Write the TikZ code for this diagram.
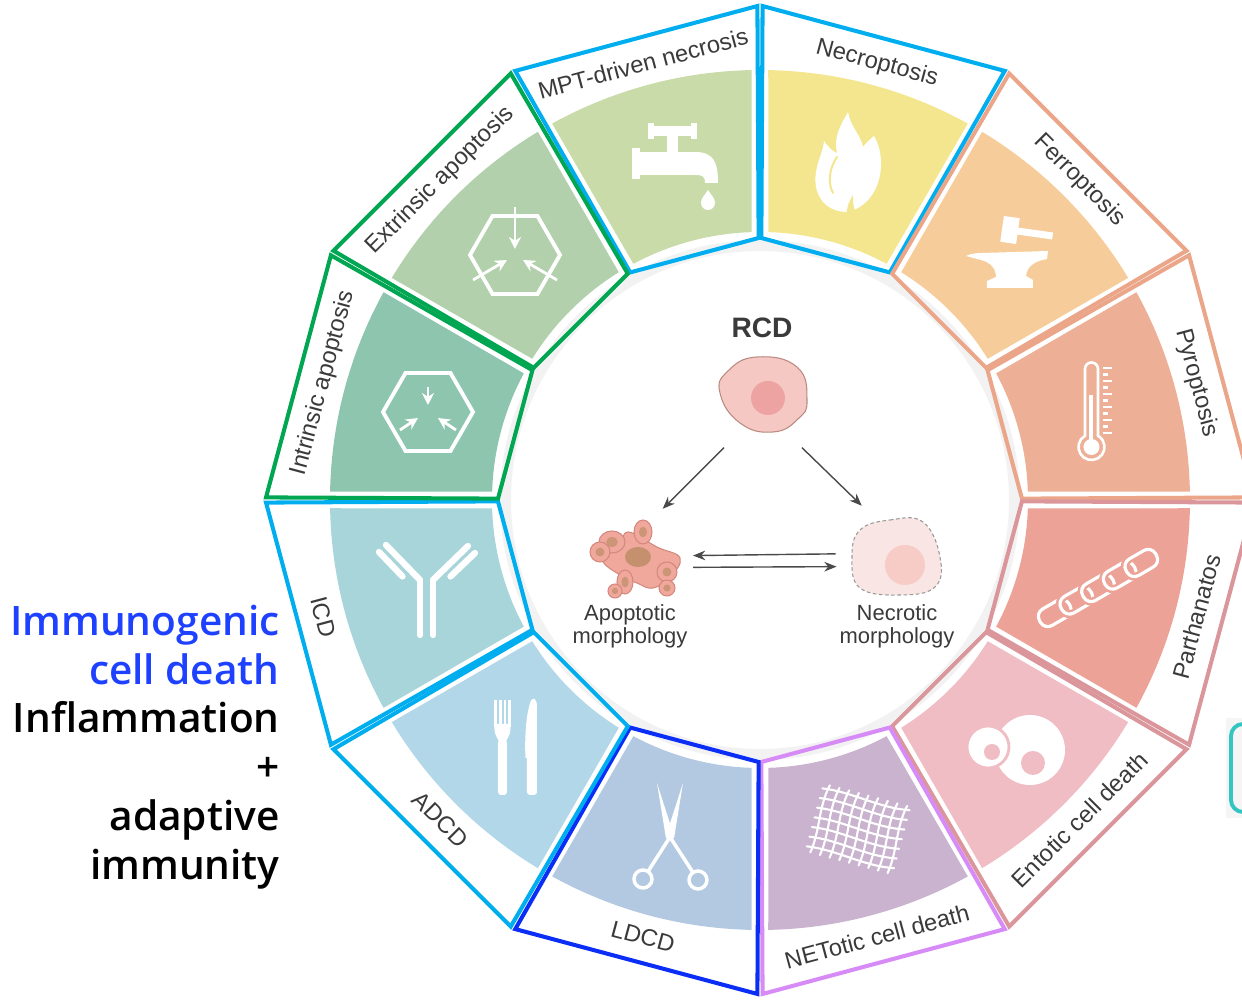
\documentclass[tikz,border=0pt]{standalone}
\usepackage{fontspec}
\setsansfont{Liberation Sans}
\newfontfamily\sidefont{Open Sans Semibold}
\usetikzlibrary{arrows.meta,positioning,calc}

% frame colours
\definecolor{cyanline}{HTML}{00AEEF}
\definecolor{greenline}{HTML}{00A651}
\definecolor{salmonline}{HTML}{EBA68A}
\definecolor{roseline}{HTML}{DA969B}
\definecolor{violetline}{HTML}{D78BF7}
\definecolor{blueline}{HTML}{0A2EF5}
% sector colours
\definecolor{mptfill}{HTML}{C8DBA8}
\definecolor{necrofill}{HTML}{F3E68E}
\definecolor{ferrofill}{HTML}{F6CD9A}
\definecolor{pyrofill}{HTML}{EDB096}
\definecolor{parthfill}{HTML}{EDA297}
\definecolor{entofill}{HTML}{EFBDC3}
\definecolor{netfill}{HTML}{C9B3CE}
\definecolor{ldcdfill}{HTML}{B3C9E1}
\definecolor{adcdfill}{HTML}{B1D7E9}
\definecolor{icdfill}{HTML}{A7D5D9}
\definecolor{intrfill}{HTML}{8EC5AF}
\definecolor{extrfill}{HTML}{B1D0AB}
% centre and text
\definecolor{inkgray}{HTML}{3A3A3A}
\definecolor{arrowgray}{HTML}{4A4A4A}
\definecolor{ringgray}{HTML}{F2F2F2}
\definecolor{cellpink}{HTML}{F5C8C4}
\definecolor{cellrim}{HTML}{B98A80}
\definecolor{nucpink}{HTML}{EEA3A3}
\definecolor{apopink}{HTML}{F0A89D}
\definecolor{apoline}{HTML}{D4877C}
\definecolor{aponuc}{HTML}{C4906E}
\definecolor{ghostpink}{HTML}{F9E5E3}
\definecolor{ghostnuc}{HTML}{F7CBC6}
\definecolor{immblue}{HTML}{1E40FF}
\definecolor{tealbox}{HTML}{33C5C1}

\begin{document}
\begin{tikzpicture}[
  font=\sffamily,
  frame/.style={line width=2.3pt, line join=miter},
  seglabel/.style={font=\sffamily\fontsize{13.5}{15}\selectfont, text=inkgray, inner sep=0pt},
  iconline/.style={draw=white, line width=1.8pt, line cap=round},
  iconarrow/.style={draw=white, line width=1.6pt, -{Stealth[length=2.4mm,width=2.4mm]}},
  cellnode/.style={circle, minimum size=#1, inner sep=0pt},
  arrow/.style={-{Stealth[length=7pt,width=5.5pt]}, draw=arrowgray, line width=0.8pt},
  note/.style={align=center, font=\sffamily\fontsize{12.5}{13.2}\selectfont, text=inkgray}
]
\useasboundingbox (-15.2,-10.04) rectangle (9.64,10.0);
\clip (-15.2,-10.04) rectangle (9.64,10.0);

% pale track under the wheel
\fill[ringgray, even odd rule] (0,0) circle (5.2) (0,0) circle (4.98);

% wheel: one sector, label and frame per death mode
\foreach \a/\fc/\oc/\txt [count=\i] in {
  105/mptfill/cyanline/MPT-driven necrosis,
  75/necrofill/cyanline/Necroptosis,
  45/ferrofill/salmonline/Ferroptosis,
  15/pyrofill/salmonline/Pyroptosis,
  -15/parthfill/roseline/Parthanatos,
  -45/entofill/roseline/Entotic cell death,
  -75/netfill/violetline/NETotic cell death,
  -105/ldcdfill/blueline/LDCD,
  -135/adcdfill/cyanline/ADCD,
  -165/icdfill/cyanline/ICD,
  165/intrfill/greenline/Intrinsic apoptosis,
  135/extrfill/greenline/Extrinsic apoptosis}{
  \fill[\fc] ({\a-13.2}:5.36) -- ({\a-13.9}:8.6)
    arc[start angle=\a-13.9, end angle=\a+13.9, radius=8.6]
    -- ({\a+13.2}:5.36)
    arc[start angle=\a+13.2, end angle=\a-13.2, radius=5.36] -- cycle;
  \pgfmathsetmacro\rot{\a>0 ? \a-90 : \a+90}
  \node[seglabel, rotate=\rot] (seg\i) at (\a:9.04) {\txt};
  \draw[frame, \oc] ({\a-14.7}:5.24) -- ({\a-14.7}:9.88)
    -- ({\a+14.7}:9.88) -- ({\a+14.7}:5.24) -- cycle;
}

% tap
\begin{scope}[shift={(-1.7,6.7)}]
  \fill[white] (-0.5,0.58) rectangle (0.4,0.78);
  \fill[white] (-0.54,0.52) rectangle (-0.42,0.84);
  \fill[white] (0.32,0.52) rectangle (0.44,0.84);
  \fill[white] (-0.16,0.24) rectangle (0.06,0.58);
  \fill[white] (-0.72,-0.2) rectangle (0.45,0.26);
  \fill[white] (-0.86,-0.28) rectangle (-0.7,0.34);
  \fill[white] (0.4,0.26) .. controls (0.78,0.26) and (0.86,0.05) .. (0.86,-0.36)
    -- (0.6,-0.36) .. controls (0.6,-0.22) and (0.55,-0.2) .. (0.4,-0.2) -- cycle;
  \fill[white] (0.66,-0.5) .. controls (0.72,-0.6) and (0.8,-0.66) .. (0.8,-0.76)
    arc[start angle=0, end angle=-180, radius=0.14]
    .. controls (0.52,-0.66) and (0.6,-0.6) .. (0.66,-0.5) -- cycle;
\end{scope}

% flame
\begin{scope}[shift={(1.76,6.76)}]
  \fill[white] (0,-1) .. controls (-0.55,-1) and (-0.7,-0.55) .. (-0.64,-0.2)
    .. controls (-0.6,0.05) and (-0.5,0.2) .. (-0.48,0.42)
    .. controls (-0.36,0.25) and (-0.28,0.2) .. (-0.22,0.18)
    .. controls (-0.3,0.55) and (-0.1,0.8) .. (0,1)
    .. controls (0.05,0.7) and (0.25,0.55) .. (0.3,0.3)
    .. controls (0.38,0.4) .. (0.52,0.52)
    .. controls (0.78,0.1) and (0.72,-0.8) .. (0,-1) -- cycle;
  \fill[necrofill] (-0.03,-1.02) .. controls (0,-0.84) .. (0.1,-0.66)
    .. controls (0.1,-0.84) .. (0.15,-1.02) -- cycle;
  \draw[necrofill, line width=1.1pt, line cap=round] (-0.3,-0.62) .. controls (-0.42,-0.4) and (-0.36,-0.1) .. (-0.22,0.1);
\end{scope}

% hammer and anvil
\begin{scope}[shift={(5.0,4.9)}]
  \begin{scope}[rotate around={-8:(0,0.5)}]
    \fill[white] (-0.16,0.24) rectangle (0.16,0.76);
    \fill[white] (0.14,0.43) rectangle (0.86,0.57);
  \end{scope}
  \fill[white] (-0.55,0.04) -- (0.76,0.08) -- (0.74,-0.08)
    .. controls (0.5,-0.12) and (0.34,-0.22) .. (0.32,-0.42) -- (0.46,-0.5)
    -- (0.46,-0.66) -- (-0.46,-0.66) -- (-0.46,-0.52) -- (-0.28,-0.44)
    .. controls (-0.28,-0.24) and (-0.42,-0.14) .. (-0.58,-0.1)
    .. controls (-0.7,-0.07) .. (-0.88,-0.02)
    .. controls (-0.76,0.03) .. (-0.55,0.04) -- cycle;
\end{scope}

% thermometer
\begin{scope}[shift={(6.7,1.9)}]
  \draw[white, line width=1.5pt] (0.06,-0.615) -- (0.06,0.72)
    arc[start angle=0, end angle=180, radius=0.13] -- (-0.2,-0.615)
    arc[start angle=120, end angle=420, radius=0.26] -- cycle;
  \fill[white] (-0.07,-0.84) circle (0.16);
  \fill[white] (-0.11,-0.72) rectangle (-0.03,0.2);
  \foreach \k in {0,...,10}{
    \pgfmathsetmacro\tl{mod(\k,2)==0 ? 0.34 : 0.27}
    \draw[white, line width=1.2pt] (0.17,{0.74-0.13*\k}) -- (\tl,{0.74-0.13*\k});
  }
\end{scope}

% chain, each link cuts the one before
\begin{scope}[shift={(6.76,-1.76)}, rotate=30]
  \foreach \k in {0,...,4}{
    \draw[parthfill, line width=4.6pt, rounded corners=0.17cm] ({-1.34+0.5*\k},-0.19) rectangle ++(0.68,0.38);
    \draw[white, line width=1.8pt, rounded corners=0.17cm] ({-1.34+0.5*\k},-0.19) rectangle ++(0.68,0.38);
  }
\end{scope}

% cell inside a cell
\begin{scope}[shift={(5.06,-5.04)}]
  \fill[white] (0.34,0.04) circle (0.7);
  \fill[entofill] (0.4,-0.22) circle (0.24);
  \filldraw[fill=white, draw=entofill, line width=1.6pt] (-0.5,0.1) circle (0.42);
  \fill[entofill] (-0.42,0.0) circle (0.16);
\end{scope}

% net
\begin{scope}[shift={(1.96,-6.58)}, rotate=-15]
  \foreach \y in {-0.6,-0.4,...,0.61}
    \draw[iconline, line width=1.2pt] (-0.9,\y) .. controls (-0.3,\y+0.09) and (0.3,\y-0.09) .. (0.9,\y+0.03);
  \foreach \x in {-0.8,-0.6,...,0.81}
    \draw[iconline, line width=1.2pt] (\x,-0.7) .. controls (\x+0.08,-0.2) and (\x-0.08,0.2) .. (\x+0.03,0.7);
\end{scope}

% scissors
\begin{scope}[shift={(-1.8,-6.7)}]
  \fill[white] (-0.26,1.04) -- (0.08,-0.02) -- (-0.08,-0.07) -- cycle;
  \fill[white] (0.26,1.04) -- (-0.08,-0.02) -- (0.08,-0.07) -- cycle;
  \draw[iconline, line width=2pt] (0,-0.04) -- (0.46,-0.75);
  \draw[iconline, line width=2pt] (0,-0.04) -- (-0.44,-0.73);
  \draw[white, line width=2pt] (0.56,-0.9) circle (0.18);
  \draw[white, line width=2pt] (-0.54,-0.88) circle (0.18);
\end{scope}

% fork and knife
\begin{scope}[shift={(-4.88,-4.96)}]
  \foreach \x in {-0.41,-0.31,-0.22,-0.13}
    \draw[white, line width=1.3pt] (\x,0.96) -- (\x,0.42);
  \fill[white] (-0.43,0.48) -- (-0.11,0.48) -- (-0.11,0.38)
    .. controls (-0.11,0.25) and (-0.18,0.2) .. (-0.2,0.12) -- (-0.34,0.12)
    .. controls (-0.36,0.2) and (-0.43,0.25) .. (-0.43,0.38) -- cycle;
  \fill[white, rounded corners=0.06cm] (-0.36,0.16) rectangle (-0.18,-0.94);
  \fill[white] (0.42,-0.2) -- (0.42,0.82) .. controls (0.42,1.0) and (0.34,1.02) .. (0.3,0.95)
    .. controls (0.2,0.7) and (0.17,0.2) .. (0.19,-0.2) -- cycle;
  \fill[white, rounded corners=0.06cm] (0.22,-0.14) rectangle (0.42,-0.94);
\end{scope}

% antibody
\begin{scope}[shift={(-6.68,-1.8)}]
  \draw[iconline, line width=3.6pt] (-0.12,0.2) -- (-0.12,-0.9);
  \draw[iconline, line width=3.6pt] (0.14,0.2) -- (0.14,-0.9);
  \draw[iconline, line width=3.6pt] (-0.12,0.2) -- (-0.8,0.9);
  \draw[iconline, line width=3.6pt] (0.14,0.2) -- (0.84,0.88);
  \draw[iconline, line width=3.6pt] (-0.47,0.27) -- (-0.94,0.76);
  \draw[iconline, line width=3.6pt] (0.49,0.27) -- (0.98,0.74);
\end{scope}

% hexagon, intrinsic signals
\begin{scope}[shift={(-6.64,1.76)}]
  \draw[white, line width=2.2pt] (0:0.9) -- (60:0.9) -- (120:0.9) -- (180:0.9) -- (240:0.9) -- (300:0.9) -- cycle;
  \draw[iconarrow] (0,0.5) -- (0,0.14);
  \draw[iconarrow] (-0.56,-0.36) -- (-0.2,-0.12);
  \draw[iconarrow] (0.56,-0.36) -- (0.2,-0.12);
\end{scope}

% hexagon, extrinsic signals
\begin{scope}[shift={(-4.9,4.9)}]
  \draw[white, line width=2.2pt] (0:0.9) -- (60:0.9) -- (120:0.9) -- (180:0.9) -- (240:0.9) -- (300:0.9) -- cycle;
  \draw[iconarrow] (0,0.96) -- (0,0.12);
  \draw[iconarrow] (-0.84,-0.5) -- (-0.16,-0.1);
  \draw[iconarrow] (0.84,-0.5) -- (0.16,-0.1);
\end{scope}

% centre: RCD and the two morphologies
\node[font=\sffamily\bfseries\fontsize{16}{18}\selectfont, text=inkgray] (rcd) at (0.04,3.44) {RCD};

\node[cellnode=2.64cm] (rcdcell) at (0.06,2.12) {};
\node[cellnode=2.44cm] (apocell) at (-2.56,-1.24) {};
\node[cellnode=2.44cm] (necrocell) at (2.74,-1.12) {};

\begin{scope}[shift={(rcdcell.center)}]
  \filldraw[fill=cellpink, draw=cellrim, line width=0.6pt] plot[smooth cycle, tension=0.8] coordinates
    {(0.88,-0.12) (0.68,0.54) (-0.12,0.74) (-0.7,0.46) (-0.86,0.02) (-0.46,-0.58) (0.2,-0.76) (0.7,-0.5)};
  \fill[nucpink] (0.1,-0.08) circle (0.34);
\end{scope}

\begin{scope}[shift={(apocell.center)}]
  \filldraw[fill=apopink, draw=apoline, line width=0.6pt] plot[smooth cycle, tension=0.7] coordinates
    {(-0.08,0.6) (0.5,0.3) (0.96,0.08) (0.76,-0.3) (0.42,-0.52) (0.1,-0.42)
     (-0.24,-0.26) (-0.6,0.04) (-0.5,0.38) (-0.24,0.3)};
  \fill[aponuc] (0.12,0.1) ellipse[x radius=0.26, y radius=0.2];
  \foreach \bx/\by/\rx/\ry in {-0.4/0.4/0.26/0.22, 0.22/0.6/0.18/0.24, -0.64/0.2/0.2/0.2,
      -0.14/-0.4/0.16/0.24, 0.7/-0.2/0.2/0.2, 0.7/-0.52/0.16/0.16, -0.34/-0.58/0.14/0.14}{
    \filldraw[fill=apopink, draw=apoline, line width=0.6pt] (\bx,\by) ellipse[x radius=\rx, y radius=\ry];
    \fill[aponuc!80!apopink] (\bx,\by) ellipse[x radius=0.45*\rx, y radius=0.45*\ry];
  }
\end{scope}

\begin{scope}[shift={(necrocell.center)}]
  \filldraw[fill=ghostpink, draw=black!40, line width=0.6pt, dash pattern=on 2pt off 1.5pt]
    plot[smooth cycle, tension=0.7] coordinates
    {(-0.74,0.52) (-0.14,0.72) (0.52,0.68) (0.86,-0.02) (0.76,-0.62) (0.06,-0.78) (-0.74,-0.64) (-0.9,-0.02)};
  \fill[ghostnuc] (0.16,-0.18) circle (0.4);
\end{scope}

\draw[arrow] (rcdcell.-126) -- (apocell.60);
\draw[arrow] (rcdcell.-54) -- (necrocell.125);
\draw[arrow] (necrocell.178) -- (apocell.6);
\draw[arrow] (apocell.-5) -- (necrocell.-170);

\node[note] (apolbl) at (-2.6,-2.52) {Apoptotic\\morphology};
\node[note] (necrolbl) at (2.74,-2.52) {Necrotic\\morphology};

% side note
\node[anchor=east, align=right, inner sep=0pt, font=\sidefont\fontsize{23.1}{27.8}\selectfont] (icdnote) at (-9.6,-4.94)
  {\textcolor{immblue}{Immunogenic}\\\textcolor{immblue}{cell death}\\Inflammation\\+\\adaptive\\immunity};

% box cut by the right edge
\fill[black!4] (9.32,-4.36) rectangle (9.64,-6.36);
\node[draw=tealbox, line width=2.2pt, rounded corners=0.24cm, minimum width=2cm, minimum height=1.76cm, inner sep=0pt] (sidebox) at (10.42,-5.36) {};

\end{tikzpicture}
\end{document}
